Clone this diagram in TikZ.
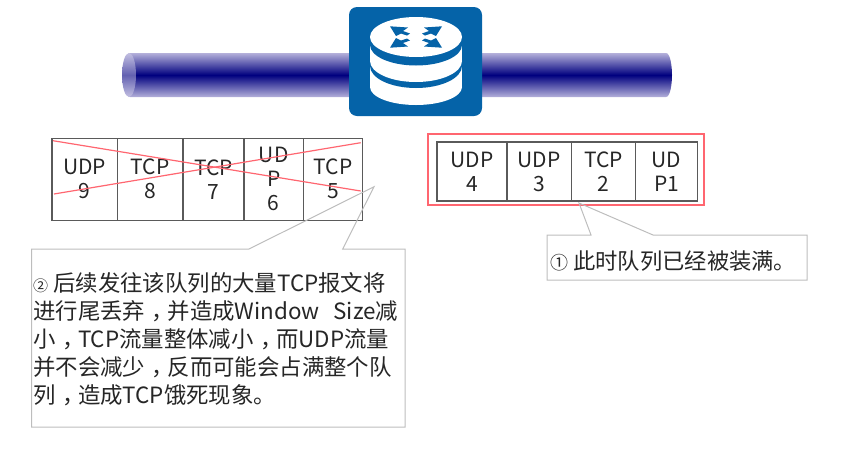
\documentclass[tikz,border=0pt]{standalone}
\usepackage{fontspec}
\setmainfont{Noto Sans CJK SC}
\definecolor{routerblue}{HTML}{0563A8}
\definecolor{pipenavy}{HTML}{00007F}
\definecolor{pipelight}{HTML}{B4B0DA}
\definecolor{crossred}{HTML}{FF6670}
\definecolor{notegray}{HTML}{BDBDBD}
\definecolor{gridgray}{HTML}{5A5A5A}
\definecolor{inkgray}{HTML}{262626}
\newcommand{\midcomma}{\hspace{.3em}，\hspace{-.3em}}
\tikzset{
  cell/.style={draw=gridgray,line width=1.3pt,inner sep=0pt,align=center,text=inkgray,
    font=\fontsize{21}{24}\selectfont,minimum height=#1},
  cell/.default=82pt,
  notetext/.style={anchor=west,inner sep=0pt,align=left,text=inkgray,
    font=\fontsize{22.4}{28}\selectfont},
  noteline/.style={draw=notegray,line width=1pt,line join=miter}
}
\begin{document}
\begin{tikzpicture}[x=1pt,y=-1pt]
  \useasboundingbox (0,0) rectangle (848,448);

  % pipe
  \shade [top color=pipelight,bottom color=pipelight,middle color=pipenavy]
    (130,53) -- (666,53) .. controls (670,53) and (672,65) .. (672,75)
    .. controls (672,85) and (670,97) .. (666,97) -- (130,97)
    .. controls (125,97) and (123,85) .. (123,75)
    .. controls (123,65) and (125,53) .. (130,53) -- cycle;
  \shade [top color=pipelight!80!white,bottom color=pipelight!80!white,middle color=pipenavy!45!pipelight]
    (129,75) ellipse [x radius=7pt,y radius=22pt];

  % router
  \node (router) at (415.5,61.5) [fill=routerblue,rounded corners=8pt,inner sep=0pt,
    minimum width=133pt,minimum height=109pt] {};
  \fill [white] (370,66) rectangle (462,87);
  \fill [white] (416,87) ellipse [x radius=46pt,y radius=18pt];
  \fill [routerblue] (416,66) ellipse [x radius=46pt,y radius=22pt];
  \fill [white] (370,45) rectangle (462,61);
  \fill [white] (416,61) ellipse [x radius=46pt,y radius=21pt];
  \fill [routerblue] (416,45) ellipse [x radius=46pt,y radius=20.5pt];
  \fill [white] (416,37) ellipse [x radius=46pt,y radius=20pt];
  \foreach \sx/\sy in {1/1,-1/1,1/-1,-1/-1}
    \fill [routerblue,shift={(416,37)},xscale=\sx,yscale=\sy]
      (-26,-10.7) -- (-8,-9.5) -- (-13,-6) -- (-6,-3.5) -- (-9,-1.5)
      -- (-15,-3.5) -- (-20,-1) -- cycle;

  % left queue
  \node (c9) at (84.75,179.25)  [cell,minimum width=65.5pt] {UDP\\9};
  \node (c8) at (150.25,179.25) [cell,minimum width=65.5pt] {TCP\\8};
  \node (c7) at (213.5,179.25)  [cell,minimum width=61pt] {TCP\\7};
  \node (c6) at (273.75,179.25) [cell,minimum width=59.5pt] {UD\\P\\6};
  \node (c5) at (333,179.25) [cell,minimum width=59pt] {TCP\\5};

  \coordinate (x1) at (53,140.7);
  \coordinate (x2) at (360.7,191);
  \coordinate (x3) at (54,194);
  \coordinate (x4) at (360.7,142.7);
  \foreach \from/\to in {x1/x2,x3/x4}
    \draw [crossred,line width=1.2pt] (\from) -- (\to);

  % right queue
  \node (c4) at (472,171.5)   [cell=59pt,minimum width=70pt] {UDP\\4};
  \node (c3) at (539.25,171.5) [cell=59pt,minimum width=64.5pt] {UDP\\3};
  \node (c2) at (603.5,171.5) [cell=59pt,minimum width=64pt] {TCP\\2};
  \node (c1) at (666.5,171.5) [cell=59pt,minimum width=62pt] {UD\\P1};
  \node (fullbox) at (566,169.5) [draw=crossred,line width=1.2pt,inner sep=0pt,
    minimum width=276pt,minimum height=71pt] {};

  % note 1
  \coordinate (a1) at (547,235);
  \coordinate (a2) at (591,235);
  \coordinate (a3) at (579,203);
  \coordinate (a4) at (653,235);
  \coordinate (a5) at (807,235);
  \coordinate (a6) at (807,280);
  \coordinate (a7) at (547,280);
  \draw [noteline] (a1) -- (a2) -- (a3) -- (a4) -- (a5) -- (a6) -- (a7) -- cycle;
  \node (noteone) at (550,261) [notetext,font=\fontsize{22.3}{28}\selectfont]
    {{\fontsize{18}{28}\selectfont ①} 此时队列已经被装满。};

  % note 2
  \coordinate (b1) at (31.7,249);
  \coordinate (b2) at (249,249);
  \coordinate (b3) at (374,186.7);
  \coordinate (b4) at (342.7,249);
  \coordinate (b5) at (405,249);
  \coordinate (b6) at (405,427);
  \coordinate (b7) at (31.7,427);
  \draw [noteline] (b1) -- (b2) -- (b3) -- (b4) -- (b5) -- (b6) -- (b7) -- cycle;
  \node (notetwo) at (33,339) [notetext] {{\fontsize{15}{28}\selectfont ②} 后续发往该队列的大量TCP报文将\\
    进行尾丢弃\midcomma 并造成Window\hspace{14pt}Size减\\
    小\midcomma TCP流量整体减小\midcomma 而UDP流量\\
    并不会减少\midcomma 反而可能会占满整个队\\
    列\midcomma 造成TCP饿死现象。};
\end{tikzpicture}
\end{document}
